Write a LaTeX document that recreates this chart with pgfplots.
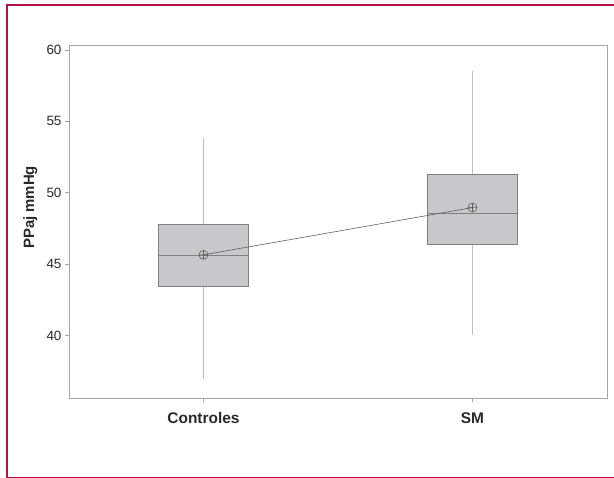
\documentclass[border=0pt]{standalone}
\usepackage{pgfplots}
\pgfplotsset{compat=1.18}
\usepackage{fontspec}
\setmainfont{Liberation Sans}
\definecolor{crim}{RGB}{178,18,68}
\definecolor{boxfill}{RGB}{200,200,204}
\definecolor{boxedge}{RGB}{128,128,128}
\definecolor{wgray}{RGB}{190,190,190}
\definecolor{axgray}{RGB}{165,165,165}
\definecolor{txt}{RGB}{40,40,40}
\definecolor{meanc}{RGB}{95,95,95}
\begin{document}
\begin{tikzpicture}
\useasboundingbox (0,0) rectangle (614bp,478bp);
\draw[crim, line width=2.5bp] (7bp,0.5bp) -- (7bp,473bp) -- (614bp,473bp);
\draw[crim, line width=1bp] (7bp,0.5bp) -- (614bp,0.5bp);
\begin{axis}[
  at={(69bp,80bp)}, anchor=south west,
  width=538bp, height=353bp, scale only axis,
  xmin=0.5, xmax=2.5, ymin=35.64, ymax=60.35,
  xtick={1,2}, xticklabels={\textbf{Controles},\textbf{SM}},
  ytick={40,45,50,55,60},
  /pgf/number format/assume math mode=true,
  tick align=outside, tick pos=left,
  major tick length=4bp,
  axis line style={axgray, line width=0.8bp},
  every tick/.style={axgray, line width=0.8bp},
  yticklabel style={font=\fontsize{13.5}{15}\selectfont, text=txt},
  xticklabel style={font=\fontsize{15.5}{17}\selectfont, text=txt, yshift=-7bp},
  ylabel={\textbf{PPaj mmHg}},
  every axis y label/.style={at={(axis description cs:-0.072,0.54)}, rotate=90, anchor=center, font=\fontsize{15}{17}\selectfont, text=txt},
  clip=false,
]
% Controles: whiskers
\addplot[wgray, line width=1bp] coordinates {(1,37.0) (1,43.45)};
\addplot[wgray, line width=1bp] coordinates {(1,47.76) (1,53.85)};
% Controles: box
\addplot[draw=boxedge, fill=boxfill, line width=0.8bp] coordinates {(0.8325,43.45) (1.1675,43.45) (1.1675,47.76) (0.8325,47.76)} -- cycle;
\addplot[boxedge, line width=0.9bp] coordinates {(0.8325,45.64) (1.1675,45.64)};
% SM: whiskers
\addplot[wgray, line width=1bp] coordinates {(2,40.02) (2,46.36)};
\addplot[wgray, line width=1bp] coordinates {(2,51.31) (2,58.55)};
% SM: box
\addplot[draw=boxedge, fill=boxfill, line width=0.8bp] coordinates {(1.8325,46.36) (2.1675,46.36) (2.1675,51.31) (1.8325,51.31)} -- cycle;
\addplot[boxedge, line width=0.9bp] coordinates {(1.8325,48.58) (2.1675,48.58)};
% means
\addplot[meanc, line width=0.6bp, mark=oplus, mark size=4.5bp, mark options={line width=0.6bp}] coordinates {(1,45.66) (2,48.97)};
\end{axis}
\end{tikzpicture}
\end{document}
